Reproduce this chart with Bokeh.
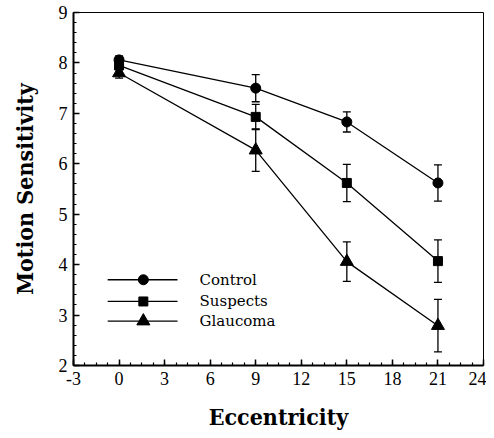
from bokeh.plotting import figure
from bokeh.models import ColumnDataSource, Whisker, TeeHead, FixedTicker, Range1d
from bokeh.embed import file_html
from bokeh.resources import INLINE
from bokeh.core.properties import value

ecc = [0, 9, 15, 21]
control = [8.06, 7.50, 6.83, 5.62]
control_err = [0.08, 0.27, 0.20, 0.36]
suspects = [7.95, 6.93, 5.62, 4.07]
suspects_err = [0.08, 0.25, 0.37, 0.42]
glaucoma = [7.80, 6.27, 4.06, 2.79]
glaucoma_err = [0.10, 0.42, 0.39, 0.52]
x_ticks = [-3, 0, 3, 6, 9, 12, 15, 18, 21, 24]
y_ticks = [2, 3, 4, 5, 6, 7, 8, 9]

FONT = "'Liberation Serif', 'Times New Roman', serif"
LABEL_FONT = "DejaVu Serif Condensed"

p = figure(width=486, height=432, output_backend="svg", toolbar_location=None,
           x_range=Range1d(-3, 24), y_range=Range1d(2, 9),
           min_border_left=73, min_border_right=3, min_border_top=12, min_border_bottom=64)
p.background_fill_color = "white"
p.border_fill_color = "white"
p.outline_line_color = "black"
p.outline_line_width = 1
p.grid.visible = False

p.xaxis.ticker = FixedTicker(ticks=x_ticks, minor_ticks=[x * 0.75 - 3 for x in range(37)])
p.yaxis.ticker = FixedTicker(ticks=y_ticks, minor_ticks=[2 + i * 0.2 for i in range(36)])
p.xaxis.major_label_overrides = {t: str(t) for t in x_ticks}
for ax in (p.xaxis, p.yaxis):
    ax.axis_line_width = 2
    ax.axis_line_color = "black"
    ax.major_tick_in = 6
    ax.major_tick_out = 0
    ax.minor_tick_in = 3
    ax.minor_tick_out = 0
    ax.major_tick_line_width = 1.5
    ax.minor_tick_line_width = 1.2
    ax.major_label_text_font = FONT
    ax.major_label_text_font_size = "18px"
    ax.major_label_text_color = "black"
    ax.axis_label_text_font = LABEL_FONT
    ax.axis_label_text_font_style = "bold"
    ax.axis_label_text_font_size = "23px"
    ax.axis_label_text_color = "black"
p.xaxis.axis_label = "Eccentricity"
p.yaxis.axis_label = "Motion Sensitivity"
p.xaxis.major_label_standoff = 6
p.yaxis.major_label_standoff = 6
p.xaxis.axis_label_standoff = 15
p.yaxis.axis_label_standoff = 18

series = [
    ("Control", control, control_err, "circle", 10),
    ("Suspects", suspects, suspects_err, "square", 9),
    ("Glaucoma", glaucoma, glaucoma_err, "triangle", 13),
]
for name, ys, errs, marker, size in series:
    src = ColumnDataSource(dict(x=ecc, y=ys,
                                lo=[a - b for a, b in zip(ys, errs)],
                                hi=[a + b for a, b in zip(ys, errs)]))
    p.add_layout(Whisker(source=src, base="x", lower="lo", upper="hi",
                         line_color="black", line_width=1.3,
                         upper_head=TeeHead(size=8, line_color="black", line_width=1.3),
                         lower_head=TeeHead(size=8, line_color="black", line_width=1.3)))
    p.line("x", "y", source=src, line_color="black", line_width=1.3)
    p.scatter("x", "y", source=src, marker=marker, size=size,
              fill_color="black", line_color="black")

# legend drawn manually in data space
leg_names = [s[0] for s in series]
leg_y = [3.70, 3.27, 2.88]
leg_x0, leg_x1, leg_xm, leg_xt = -0.75, 3.85, 1.6, 5.3
for (name, _, _, marker, size), ly in zip(series, leg_y):
    p.line([leg_x0, leg_x1], [ly, ly], line_color="black", line_width=1.3)
    p.scatter([leg_xm], [ly], marker=marker, size=size, fill_color="black", line_color="black")
p.text(x=[leg_xt] * 3, y=leg_y, text=leg_names, text_font=value("DejaVu Serif"),
       text_font_size="15px", text_baseline="middle", text_align="left", text_color="black")

open("out.html", "w").write(file_html(p, INLINE))
